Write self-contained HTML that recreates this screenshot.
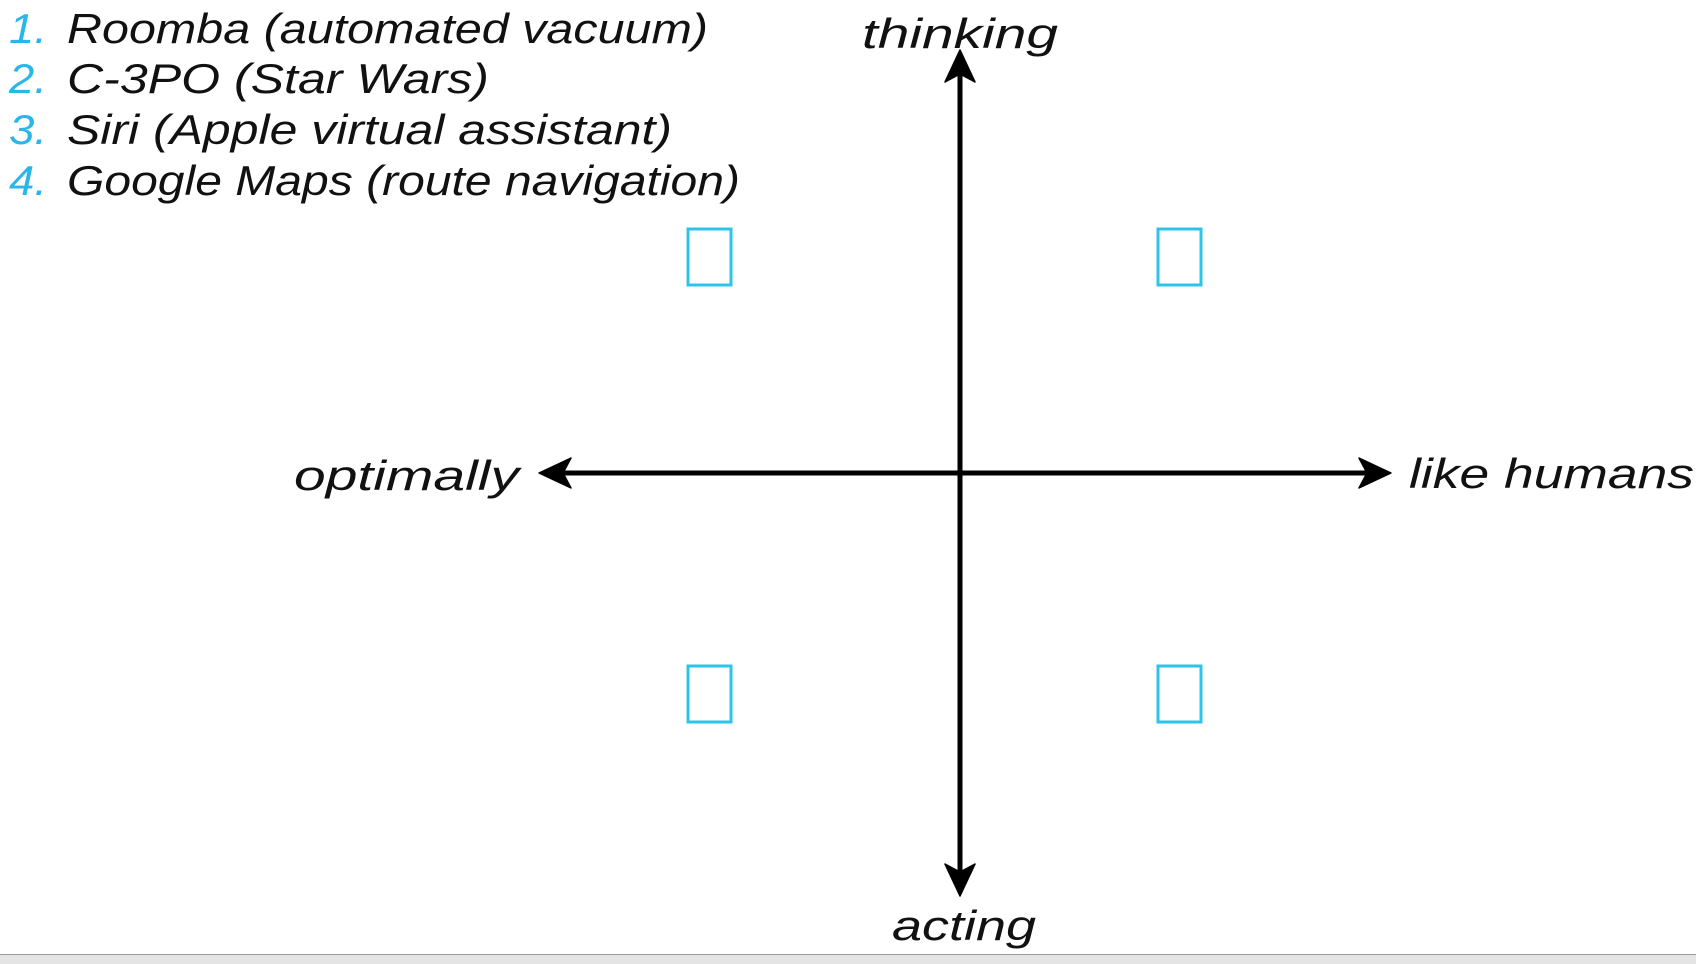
<!DOCTYPE html>
<html><head><meta charset="utf-8"><style>
html,body{margin:0;padding:0;background:#fff;}
svg{display:block;}
text{font-family:"Liberation Sans",sans-serif;font-style:italic;fill:#111;}
</style></head><body>
<svg width="1696" height="964" viewBox="0 0 1696 964" xmlns="http://www.w3.org/2000/svg">
<rect width="1696" height="964" fill="#fff"/>
<g font-size="42">
<text x="9" y="43" style="fill:#29b6e8" textLength="38" lengthAdjust="spacingAndGlyphs">1.</text>
<text x="67" y="43" textLength="641" lengthAdjust="spacingAndGlyphs">Roomba (automated vacuum)</text>
<text x="9" y="93" style="fill:#29b6e8" textLength="38" lengthAdjust="spacingAndGlyphs">2.</text>
<text x="67" y="93" textLength="422" lengthAdjust="spacingAndGlyphs">C-3PO (Star Wars)</text>
<text x="9" y="144" style="fill:#29b6e8" textLength="38" lengthAdjust="spacingAndGlyphs">3.</text>
<text x="67" y="144" textLength="605" lengthAdjust="spacingAndGlyphs">Siri (Apple virtual assistant)</text>
<text x="9" y="195" style="fill:#29b6e8" textLength="38" lengthAdjust="spacingAndGlyphs">4.</text>
<text x="67" y="195" textLength="673" lengthAdjust="spacingAndGlyphs">Google Maps (route navigation)</text>
<text x="862" y="48" textLength="196" lengthAdjust="spacingAndGlyphs">thinking</text>
<text x="294" y="490" textLength="225" lengthAdjust="spacingAndGlyphs">optimally</text>
<text x="1409" y="488" textLength="285" lengthAdjust="spacingAndGlyphs">like humans</text>
<text x="892" y="940" textLength="144" lengthAdjust="spacingAndGlyphs">acting</text>
</g>
<g stroke="#000" stroke-width="5" fill="none">
<line x1="960" y1="60" x2="960" y2="885"/>
<line x1="550" y1="473" x2="1380" y2="473"/>
</g>
<g fill="#000" stroke="#000" stroke-width="1.5" stroke-linejoin="round">
<polygon points="960,50 975,82 960,74 945,82"/>
<polygon points="960,896 975,864 960,872 945,864"/>
<polygon points="539,473 571,458 563,473 571,488"/>
<polygon points="1391,473 1359,458 1367,473 1359,488"/>
</g>
<g stroke="#2ec4ea" stroke-width="3" fill="none">
<rect x="688" y="229" width="43" height="56"/>
<rect x="1158" y="229" width="43" height="56"/>
<rect x="688" y="666" width="43" height="56"/>
<rect x="1158" y="666" width="43" height="56"/>
</g>
<rect x="0" y="954" width="1696" height="10" fill="#e4e4e4"/>
<line x1="0" y1="954.5" x2="1696" y2="954.5" stroke="#999" stroke-width="1"/>
</svg>
</body></html>
